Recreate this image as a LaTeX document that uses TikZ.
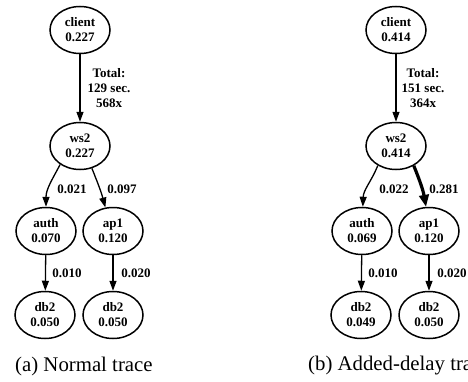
\documentclass[tikz,border=0pt]{standalone}
\usepackage{fontspec}
\setmainfont{Liberation Serif}
\usetikzlibrary{arrows.meta,shapes.geometric}
\tikzset{
  gnode/.style={draw, ellipse, line width=1.5pt, minimum width=60pt, minimum height=47pt, inner sep=0pt, align=center, font=\fontsize{13}{15}\selectfont\bfseries},
  edge/.style={draw, line width=1.3pt, -{Triangle[length=10pt,width=7pt]}},
  thickedge/.style={draw, line width=3.2pt, -{Triangle[length=12pt,width=9.5pt]}},
  elab/.style={align=center, inner sep=0pt, font=\fontsize{13}{15}\selectfont\bfseries},
  capt/.style={anchor=west, inner sep=0pt, font=\fontsize{20.8}{24}\selectfont}
}
\begin{document}
\begin{tikzpicture}[x=1pt,y=1pt]
\useasboundingbox (0,0) rectangle (468,381);
\clip (0,0) rectangle (468,381);
% graph (a)
\node[gnode] (ca) at (80,351) {client\\0.227};
\node[gnode] (wa) at (80,235) {ws2\\0.227};
\node[gnode] (aa) at (46,150) {auth\\0.070};
\node[gnode] (pa) at (113,150) {ap1\\0.120};
\node[gnode] (da) at (45,66) {db2\\0.050};
\node[gnode] (ea) at (113,66) {db2\\0.050};
\draw[edge] (ca) -- (wa);
\draw[edge] (wa.-137) to[out=-118,in=90] (aa.north);
\draw[edge] (wa.-62) to[out=-68,in=105] (pa.108);
\draw[edge] (aa) -- (da);
\draw[edge] (pa) -- (ea);
\node[elab] (tla) at (109,293) {Total:\\129 sec.\\568x};
\node[elab] (l1a) at (72,192) {0.021};
\node[elab] (l2a) at (122,192) {0.097};
\node[elab] (l3a) at (67,108) {0.010};
\node[elab] (l4a) at (136,108) {0.020};
\node[capt] (capa) at (15,15) {(a) Normal trace};
% graph (b)
\node[gnode] (cb) at (396,351) {client\\0.414};
\node[gnode] (wb) at (396,235) {ws2\\0.414};
\node[gnode] (ab) at (362,150) {auth\\0.069};
\node[gnode] (pb) at (429,150) {ap1\\0.120};
\node[gnode] (db) at (361,66) {db2\\0.049};
\node[gnode] (eb) at (429,66) {db2\\0.050};
\draw[edge] (cb) -- (wb);
\draw[edge] (wb.-133) to[out=-112,in=88] (ab.88);
\draw[thickedge] (wb.-48) to[out=-68,in=100] (pb.97);
\draw[edge] (ab) -- (db);
\draw[edge] (pb) -- (eb);
\node[elab] (tlb) at (423,293) {Total:\\151 sec.\\364x};
\node[elab] (l1b) at (394,192) {0.022};
\node[elab] (l2b) at (444,192) {0.281};
\node[elab] (l3b) at (383,108) {0.010};
\node[elab] (l4b) at (452,108) {0.020};
\node[capt] (capb) at (308,15) {(b) Added-delay trace};
\end{tikzpicture}
\end{document}
